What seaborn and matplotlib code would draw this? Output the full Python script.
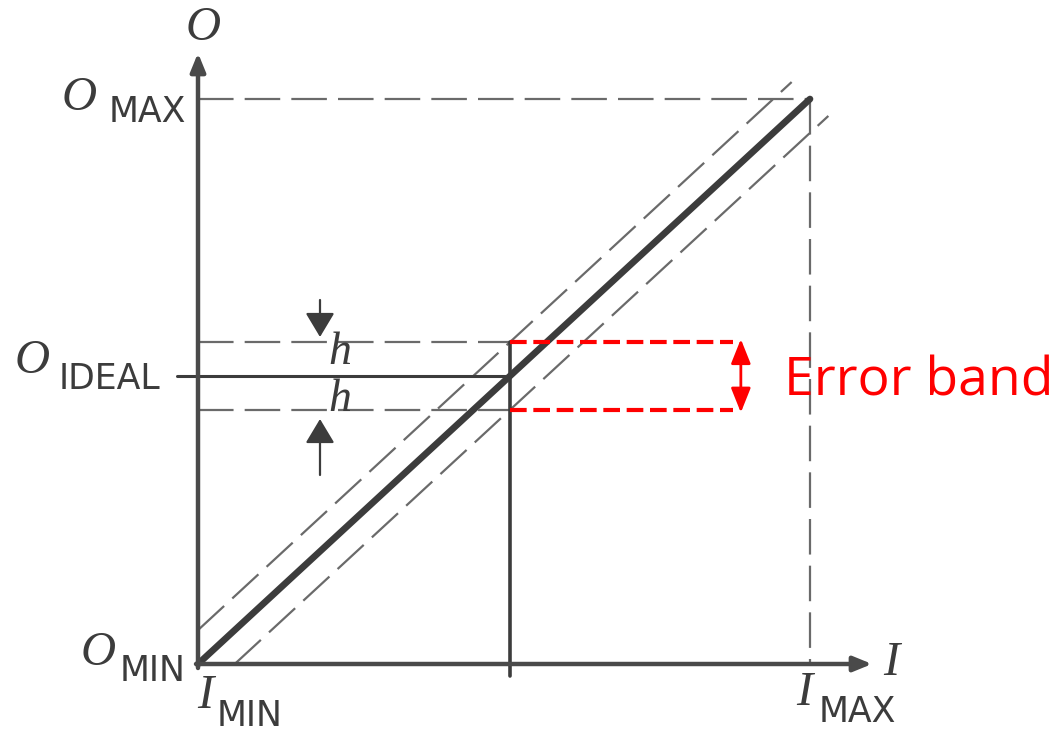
import matplotlib
matplotlib.use("Agg")
import matplotlib.pyplot as plt
import seaborn as sns
import pandas as pd

# ---- data (diagram values) ----
I_RANGE = [0.0, 10.0]          # I_MIN, I_MAX
O_RANGE = [0.0, 10.0]          # O_MIN, O_MAX
I_POINT = 5.1                  # input at which the error band is shown
O_IDEAL = 5.1                  # ideal output at I_POINT
H = 0.6                        # half-width of the error band
UPPER_I = [0.0, 9.7]
UPPER_O = [0.6, 10.3]
LOWER_I = [0.6, 10.3]
LOWER_O = [0.0, 9.7]
BAND_END = 8.74
ARROW_X = 8.87

sns.set_style("white")
plt.rcParams['font.family'] = ['DejaVu Sans']

W, Hpx = 1061, 731
fig = plt.figure(figsize=(W / 100, Hpx / 100), dpi=100)
ax = fig.add_axes([0, 0, 1, 1])

# pixel -> data helpers (for annotation placement only)
X0, Y0, SX, SY = 198.0, 664.0, 61.2, 56.5
def PX(p):
    return (p - X0) / SX
def PY(p):
    return (Y0 - p) / SY

ax.set_xlim(PX(0), PX(W))
ax.set_ylim(PY(Hpx), PY(0))
ax.set_axis_off()

dark = "#3c3c3c"
axis_c = "#4a4a4a"
dash_c = "#6a6a6a"
dash_style = (0, (16, 5))

def line(xs, ys, **kw):
    df = pd.DataFrame({"x": xs, "y": ys})
    sns.lineplot(data=df, x="x", y="y", ax=ax, estimator=None, sort=False,
                 legend=False, **kw)

# axes with arrows
ax.annotate("", xy=(I_RANGE[0], PY(53)), xytext=(I_RANGE[0], PY(668)),
            arrowprops=dict(arrowstyle="-|>,head_length=1.1,head_width=0.45",
                            color=axis_c, lw=3.2, shrinkA=0, shrinkB=0))
ax.annotate("", xy=(PX(872), O_RANGE[0]), xytext=(PX(196), O_RANGE[0]),
            arrowprops=dict(arrowstyle="-|>,head_length=1.1,head_width=0.45",
                            color=axis_c, lw=3.2, shrinkA=0, shrinkB=0))

# O_MAX / I_MAX dashed guides
line([I_RANGE[0], I_RANGE[1]], [O_RANGE[1], O_RANGE[1]], color=dash_c, lw=1.6, linestyle=dash_style)
line([I_RANGE[1], I_RANGE[1]], [O_RANGE[1], O_RANGE[0]], color=dash_c, lw=1.6, linestyle=dash_style)

# tolerance dashed diagonals
line(UPPER_I, UPPER_O, color=dash_c, lw=1.6, linestyle=dash_style)
line(LOWER_I, LOWER_O, color=dash_c, lw=1.6, linestyle=dash_style)

# ideal line
line(I_RANGE, O_RANGE, color=dark, lw=4.8)

# horizontal band guides
line([I_RANGE[0], I_POINT], [O_IDEAL + H, O_IDEAL + H], color=dash_c, lw=1.6, linestyle=dash_style)
line([I_RANGE[0], I_POINT], [O_IDEAL - H, O_IDEAL - H], color=dash_c, lw=1.6, linestyle=dash_style)
line([PX(177), I_POINT], [O_IDEAL, O_IDEAL], color=dark, lw=2.2)
line([I_POINT, I_POINT], [PY(676), O_IDEAL + H], color=dark, lw=2.6)

# h arrows
ax.annotate("", xy=(PX(320), PY(337)), xytext=(PX(320), PY(300)),
            arrowprops=dict(arrowstyle="-|>,head_length=0.75,head_width=0.45",
                            mutation_scale=20, color=dark, lw=1.6, shrinkA=0, shrinkB=0))
ax.annotate("", xy=(PX(320), PY(419)), xytext=(PX(320), PY(475)),
            arrowprops=dict(arrowstyle="-|>,head_length=0.75,head_width=0.45",
                            mutation_scale=20, color=dark, lw=1.6, shrinkA=0, shrinkB=0))

# red error band
red = "#ff0000"
red_dash = (0, (4, 1.6))
line([I_POINT, BAND_END], [O_IDEAL + H, O_IDEAL + H], color=red, lw=3.0, linestyle=red_dash)
line([I_POINT, BAND_END], [O_IDEAL - H, O_IDEAL - H], color=red, lw=3.0, linestyle=red_dash)
ax.annotate("", xy=(ARROW_X, O_IDEAL + H + 0.05), xytext=(ARROW_X, O_IDEAL - H - 0.05),
            arrowprops=dict(arrowstyle="<|-|>,head_length=0.75,head_width=0.3",
                            mutation_scale=20, color=red, lw=2.0, shrinkA=0, shrinkB=0))
ax.text(PX(784), PY(395), "Error band", color=red, fontsize=38.5,
        family="Open Sans", ha="left", va="baseline")

# labels
serif_it = dict(family="Liberation Serif", style="italic", color=dark)
sub = dict(family="DejaVu Sans", color=dark)

def lab(px, py, s, size, **kw):
    ax.text(PX(px), PY(py), s, fontsize=size, ha="center", va="center", **kw)

lab(203, 28, "O", 35, **serif_it)
lab(79, 98, "O", 35, **serif_it)
lab(147, 112, "MAX", 25, **sub)
lab(32, 361, "O", 35, **serif_it)
lab(109, 379, "IDEAL", 25, **sub)
lab(98, 653, "O", 35, **serif_it)
lab(153, 671, "MIN", 25, **sub)
lab(205, 696, "I", 35, **serif_it)
lab(250, 716, "MIN", 25, **sub)
lab(804, 693, "I", 35, **serif_it)
lab(857, 712, "MAX", 25, **sub)
lab(891, 663, "I", 35, **serif_it)
lab(340, 353, "h", 33, **serif_it)
lab(340, 400, "h", 33, **serif_it)

fig.savefig("out.png", dpi=100, facecolor="white")
